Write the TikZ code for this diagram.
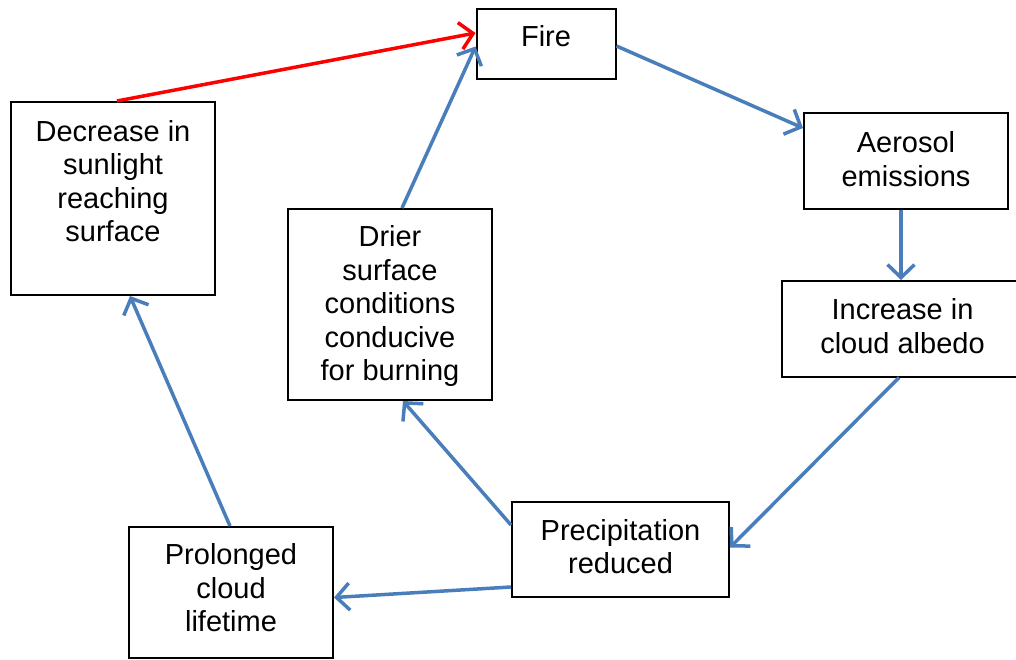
\documentclass[tikz,border=0pt]{standalone}
\usepackage{fontspec}
\setmainfont{Liberation Sans}
\usetikzlibrary{arrows.meta}
\definecolor{linkblue}{HTML}{4A7EBB}
\definecolor{linkred}{HTML}{FF0000}
\newcommand{\mystrut}{\rule{0pt}{22pt}}
\begin{document}
\begin{tikzpicture}[x=1pt,y=-1pt,
  box/.style={draw=black, line width=2pt, rectangle, inner sep=0pt, fill=white},
  txt/.style={anchor=north, inner sep=0pt, align=center, font=\fontsize{29}{33.5}\selectfont},
  link/.style={draw=linkblue, line width=3.5pt, -{Straight Barb[length=13pt,width=27pt]}},
  redlink/.style={link, draw=linkred}]
\useasboundingbox (0,0) rectangle (1016,659);
\clip (0,0) rectangle (1016,659);
% boxes
\node[box, minimum width=139pt, minimum height=70pt]  (fire) at (546,44) {};
\node[box, minimum width=204pt, minimum height=96pt]  (aer)  at (906,161) {};
\node[box, minimum width=241pt, minimum height=95.5pt] (inc) at (902.5,328.75) {};
\node[box, minimum width=217pt, minimum height=95pt]  (pre)  at (620.5,549.5) {};
\node[box, minimum width=204pt, minimum height=131pt] (pro)  at (231,592.5) {};
\node[box, minimum width=204pt, minimum height=193pt] (dec)  at (113,198.5) {};
\node[box, minimum width=204pt, minimum height=191pt] (dri)  at (390,304.5) {};
% texts
\node[txt] (firet) at (546,24) {\mystrut Fire};
\node[txt] (aert)  at (906,130.5) {\mystrut Aerosol\\emissions};
\node[txt] (inct)  at (902.5,297.3) {\mystrut Increase in\\cloud albedo};
\node[txt] (pret)  at (620.5,518) {\mystrut Precipitation\\reduced};
\node[txt] (prot)  at (231,542.3) {\mystrut Prolonged\\cloud\\lifetime};
\node[txt] (dect)  at (113,119) {\mystrut Decrease in\\sunlight\\reaching\\surface};
\node[txt] (drit)  at (390,224.7) {\mystrut Drier\\surface\\conditions\\conducive\\for burning};
% connectors
\draw[redlink] ([xshift=4pt]dec.north) -- ([yshift=11pt]fire.west);
\draw[link] ([yshift=-2pt]fire.east) -- ([yshift=33pt]aer.west);
\draw[link] ([xshift=-5pt]aer.south) -- ([xshift=-1.5pt]inc.north);
\draw[link] ([xshift=-3.5pt]inc.south) -- ([yshift=2pt]pre.east);
\draw[link] ([yshift=-37.5pt]pre.west) -- ([yshift=-5pt]pro.east);
\draw[link] ([yshift=24.5pt]pre.west) -- ([xshift=13pt]dri.south);
\draw[link] ([xshift=12pt]dri.north) -- ([yshift=-2.5pt]fire.west);
\draw[link] ([xshift=-1pt]pro.north) -- ([xshift=17pt]dec.south);
\end{tikzpicture}
\end{document}
